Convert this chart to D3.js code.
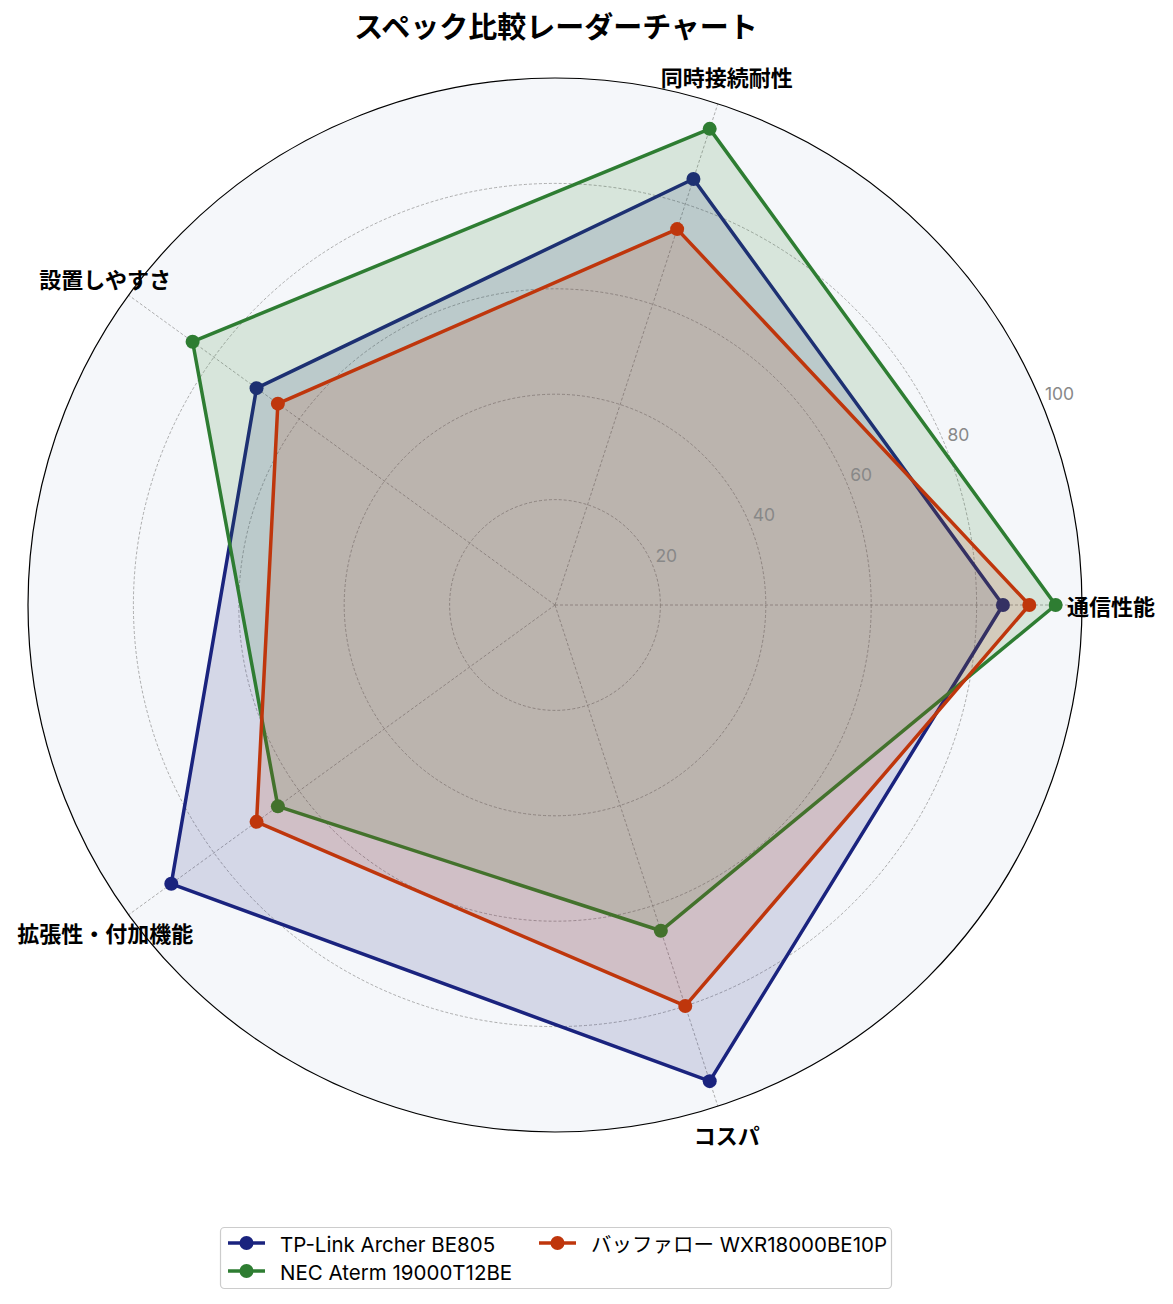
<!DOCTYPE html>
<html><head><meta charset="utf-8">
<script src="https://cdn.jsdelivr.net/npm/d3@7/dist/d3.min.js"></script>
<style>body{margin:0;background:#fff}svg{display:block}text{font-family:"Noto Sans CJK JP","Noto Sans",sans-serif}.lat{font-family:Inter,"Noto Sans CJK JP",sans-serif}</style>
</head><body><svg id="c" width="1173" height="1304"></svg>
<script>
const categories = ["通信性能","同時接続耐性","設置しやすさ","拡張性・付加機能","コスパ"];
const seriesNames = ["TP-Link Archer BE805","NEC Aterm 19000T12BE","バッファロー WXR18000BE10P"];
const tpLink = [85, 85, 70, 90, 95];
const nec = [95, 95, 85, 65, 65];
const buffalo = [90, 75, 65, 70, 80];
const colors = ["#1a237e","#2e7d32","#bf360c"];
const tickValues = [20, 40, 60, 80, 100];
const allSeries = [tpLink, nec, buffalo];

const svg = d3.select("#c");
const cx = 555, cy = 605, R = 527;
const r = d3.scaleLinear().domain([0,100]).range([0,R]);
const ang = d3.scaleLinear().domain([0, categories.length]).range([0, 2*Math.PI]);
const pt = (i, v) => [cx + r(v)*Math.cos(ang(i)), cy - r(v)*Math.sin(ang(i))];

svg.append("text").attr("x",556).attr("y",38).attr("text-anchor","middle")
  .attr("font-size",29).attr("font-weight","bold").text("スペック比較レーダーチャート");

svg.append("circle").attr("cx",cx).attr("cy",cy).attr("r",R).attr("fill","#f5f7fa");
const g = svg.append("g");
tickValues.slice(0,-1).forEach(t=>{
  g.append("circle").attr("cx",cx).attr("cy",cy).attr("r",r(t)).attr("fill","none")
   .attr("stroke","#999").attr("stroke-width",0.8).attr("stroke-dasharray","3,2");
});
categories.forEach((c,i)=>{
  const [x,y] = pt(i,100);
  g.append("line").attr("x1",cx).attr("y1",cy).attr("x2",x).attr("y2",y)
   .attr("stroke","#999").attr("stroke-width",0.8).attr("stroke-dasharray","3,2");
});

const line = d3.lineRadial().angle((d,i)=>Math.PI/2 - ang(i)).radius(d=>r(d)).curve(d3.curveLinearClosed);
allSeries.forEach((s,k)=>{
  const sg = svg.append("g").attr("transform",`translate(${cx},${cy})`);
  sg.append("path").attr("d",line(s)).attr("fill",colors[k]).attr("fill-opacity",0.15)
    .attr("stroke",colors[k]).attr("stroke-width",3.5).attr("stroke-linejoin","round");
  s.forEach((v,i)=>{
    const [x,y] = pt(i,v);
    svg.append("circle").attr("cx",x).attr("cy",y).attr("r",7).attr("fill",colors[k]);
  });
});

svg.append("circle").attr("cx",cx).attr("cy",cy).attr("r",R).attr("fill","none").attr("stroke","#000").attr("stroke-width",1.2);

const la = Math.PI/8;
tickValues.forEach(t=>{
  const rr = r(t);
  svg.append("text").attr("class","lat").attr("x",cx + rr*Math.cos(la)+3).attr("y",cy - rr*Math.sin(la)-3)
   .attr("font-size",17.5).attr("fill","#888").text(t);
});

categories.forEach((c,i)=>{
  const x = cx + 556*Math.cos(ang(i)), y = cy - 556*Math.sin(ang(i));
  svg.append("text").attr("x",x).attr("y",y).attr("text-anchor","middle")
   .attr("dominant-baseline","central").attr("font-size",22).attr("font-weight","bold").text(c);
});

const lg = svg.append("g");
lg.append("rect").attr("x",220.5).attr("y",1227.5).attr("width",671).attr("height",61).attr("rx",4)
  .attr("fill","#fff").attr("stroke","#ccc").attr("stroke-width",1.2);
const pos = [[228,1243],[228,1271],[539,1243]];
seriesNames.forEach((n,k)=>{
  const [x,y] = pos[k];
  lg.append("line").attr("x1",x).attr("x2",x+37).attr("y1",y).attr("y2",y).attr("stroke",colors[k]).attr("stroke-width",3.5);
  lg.append("circle").attr("cx",x+18.5).attr("cy",y).attr("r",7).attr("fill",colors[k]);
  lg.append("text").attr("class","lat").attr("x",x+52).attr("y",y+1).attr("dominant-baseline","central").attr("font-size",20.5).text(n);
});
</script></body></html>
